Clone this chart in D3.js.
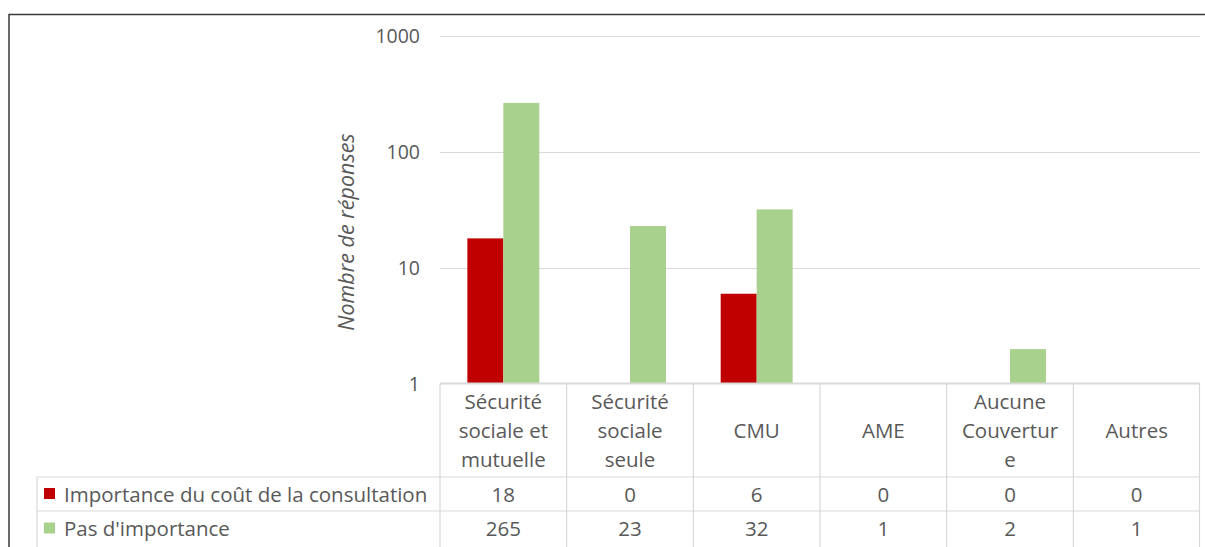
<!DOCTYPE html>
<html>
<head>
<meta charset="utf-8">
<script src="https://cdn.jsdelivr.net/npm/d3@7"></script>
<style>
  html, body { margin: 0; padding: 0; background: #fff; }
  svg { display: block; font-family: "Open Sans", "Noto Sans", sans-serif; }
</style>
</head>
<body>
<svg id="chart" width="1205" height="547"></svg>
<script>
const categories = ["Sécurité sociale et mutuelle", "Sécurité sociale seule", "CMU", "AME", "Aucune Couverture", "Autres"];
const categoryLines = [["Sécurité", "sociale et", "mutuelle"], ["Sécurité", "sociale", "seule"], ["CMU"], ["AME"], ["Aucune", "Couvertur", "e"], ["Autres"]];
const seriesNames = ["Importance du coût de la consultation", "Pas d'importance"];
const importanceValues = [18, 0, 6, 0, 0, 0];
const pasImportanceValues = [265, 23, 32, 1, 2, 1];
const yTicks = [1, 10, 100, 1000];
const yTitle = "Nombre de réponses";
const colors = ["#C00000", "#A9D18E"];

const seriesValues = [importanceValues, pasImportanceValues];

const svg = d3.select("#chart");
const plotLeft = 440, plotRight = 1200, plotTop = 36, plotBottom = 384;
const headerBottom = 477, row1Bottom = 511, row2Bottom = 546;
const legendLeft = 37;
const gridColor = "#d9d9d9";
const textColor = "#595959";
const fs = 20.5;

// outer chart border
svg.append("path")
  .attr("d", `M9,560 V14.5 H1220`)
  .attr("fill", "none").attr("stroke", "#3a3a3a").attr("stroke-width", 1.5);

const x = d3.scaleBand().domain(categories).range([plotLeft, plotRight]).paddingInner(0).paddingOuter(0);
const xs = d3.scaleBand().domain(seriesNames).range([0, x.bandwidth()]).paddingInner(0).paddingOuter(0.76);
const y = d3.scaleLog().domain([1, 1000]).range([plotBottom, plotTop]);

// gridlines
svg.append("g").selectAll("line").data(yTicks.filter(t => t > 1)).join("line")
  .attr("x1", plotLeft).attr("x2", plotRight)
  .attr("y1", d => Math.round(y(d)) + 0.5).attr("y2", d => Math.round(y(d)) + 0.5)
  .attr("stroke", gridColor).attr("stroke-width", 1);

// y tick labels
svg.append("g").selectAll("text").data(yTicks).join("text")
  .attr("x", 420).attr("y", d => y(d)).attr("dy", "0.36em")
  .attr("text-anchor", "end").attr("font-size", 19.5).attr("fill", textColor)
  .text(d => d);

// y title
svg.append("text")
  .attr("transform", `translate(354,232) rotate(-90)`)
  .attr("text-anchor", "middle").attr("font-size", 21.5).attr("font-style", "italic")
  .attr("fill", textColor).text(yTitle);

// bars
const barData = [];
seriesValues.forEach((vals, si) => vals.forEach((v, ci) => {
  if (v > 0) barData.push({ s: seriesNames[si], si, c: categories[ci], v });
}));
svg.append("g").selectAll("rect").data(barData).join("rect")
  .attr("x", d => x(d.c) + xs(d.s))
  .attr("width", xs.bandwidth())
  .attr("y", d => y(d.v))
  .attr("height", d => y(1) - y(d.v))
  .attr("fill", d => colors[d.si]);

// table lines
const tg = svg.append("g").attr("stroke", gridColor).attr("stroke-width", 1.2).attr("fill", "none");
tg.append("line").attr("x1", plotLeft).attr("x2", plotRight).attr("y1", plotBottom - 0.5).attr("y2", plotBottom - 0.5).attr("stroke-width", 2);
[headerBottom, row1Bottom].forEach(yy => {
  tg.append("line").attr("x1", legendLeft).attr("x2", plotRight).attr("y1", yy).attr("y2", yy);
});
tg.append("line").attr("x1", legendLeft).attr("x2", legendLeft).attr("y1", headerBottom).attr("y2", 560);
categories.concat([null]).forEach((c, i) => {
  const xx = c === null ? plotRight - 0.5 : x(c);
  tg.append("line").attr("x1", xx).attr("x2", xx).attr("y1", plotBottom).attr("y2", 560);
});

// category labels
const lineH = 29;
categories.forEach((c, i) => {
  const lines = categoryLines[i];
  const cy = (plotBottom + headerBottom) / 2;
  const t = svg.append("text").attr("text-anchor", "middle").attr("font-size", fs).attr("fill", textColor);
  lines.forEach((ln, k) => {
    t.append("tspan").attr("x", x(c) + x.bandwidth() / 2)
      .attr("y", cy + (k - (lines.length - 1) / 2) * lineH + 7.5)
      .text(ln);
  });
});

// data rows
const rowCenters = [(headerBottom + row1Bottom) / 2, (row1Bottom + row2Bottom) / 2];
seriesValues.forEach((vals, si) => {
  const cy = rowCenters[si];
  svg.append("rect").attr("x", 44).attr("y", cy - 6).attr("width", 11).attr("height", 11).attr("fill", colors[si]);
  svg.append("text").attr("x", 64).attr("y", cy + 7.5).attr("font-size", fs).attr("fill", textColor).text(seriesNames[si]);
  svg.append("g").selectAll("text").data(vals).join("text")
    .attr("x", (d, ci) => x(categories[ci]) + x.bandwidth() / 2)
    .attr("y", cy + 7.5).attr("text-anchor", "middle").attr("font-size", fs).attr("fill", textColor)
    .text(d => d);
});
</script>
</body>
</html>
